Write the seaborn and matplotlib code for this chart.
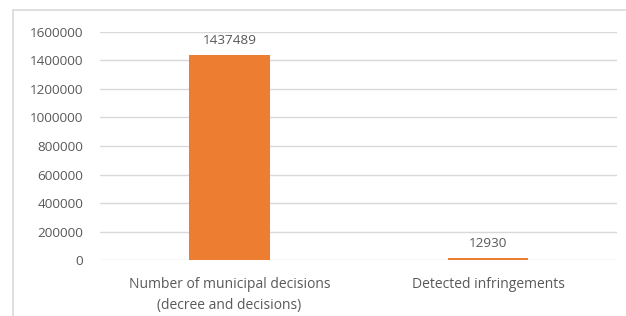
import matplotlib

matplotlib.use("Agg")
import matplotlib.pyplot as plt
import pandas as pd
import seaborn as sns
from matplotlib.patches import Rectangle

categories = ["Number of municipal decisions\n(decree and decisions)", "Detected infringements"]
values = [1437489, 12930]
y_ticks = [0, 200000, 400000, 600000, 800000, 1000000, 1200000, 1400000, 1600000]

BAR_COLOR = "#ED7D31"
TEXT_COLOR = "#595959"
GRID_COLOR = "#D9D9D9"

sns.set_style("white")
plt.rcParams["font.family"] = ["Open Sans", "DejaVu Sans"]

df = pd.DataFrame({"category": categories, "value": values})

fig = plt.figure(figsize=(6.26, 3.16), dpi=100)
ax = fig.add_axes([0.16, 0.177, 0.826, 0.722])

sns.barplot(data=df, x="category", y="value", color=BAR_COLOR, width=0.31,
            saturation=1, linewidth=0, ax=ax, zorder=3)

ax.set_ylim(0, 1600000)
ax.set_yticks(y_ticks)
ax.set_yticklabels([str(t) for t in y_ticks])
ax.yaxis.grid(True, color=GRID_COLOR, linewidth=1)
ax.set_axisbelow(True)
ax.set_xlabel("")
ax.set_ylabel("")
for side in ax.spines.values():
    side.set_visible(False)
ax.tick_params(axis="y", length=0, pad=12, labelsize=9.7, labelcolor=TEXT_COLOR)
ax.tick_params(axis="x", length=0, pad=12, labelsize=10, labelcolor=TEXT_COLOR)
for lbl in ax.get_xticklabels():
    lbl.set_linespacing(1.6)

for container in ax.containers:
    ax.bar_label(container, labels=[str(v) for v in values], padding=6,
                 fontsize=9.7, color=TEXT_COLOR)

# light frame around the chart (left and top edges visible)
fig.patches.append(Rectangle((13 / 626, -0.1), 1.2, (316 - 10) / 316 + 0.1,
                             transform=fig.transFigure, fill=False,
                             edgecolor="#D9D9D9", linewidth=1.2))

fig.savefig("out.png", dpi=100)
